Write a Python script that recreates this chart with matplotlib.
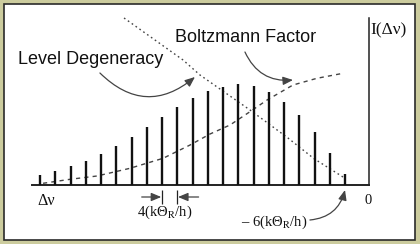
import numpy as np
import matplotlib
matplotlib.use("Agg")
import matplotlib.pyplot as plt
from matplotlib.patches import Rectangle, FancyArrowPatch

plt.rcParams['mathtext.fontset'] = 'stix'

# rotational lines, counted from the band origin
line_index = list(range(21))
intensity = [10, 14, 19, 24, 31, 39, 48.6, 58, 68, 78, 87.6, 94,
             98.6, 101.3, 99.3, 93, 83.6, 70, 53.3, 32.6, 11]

# level degeneracy curve (dotted, falling)
degen_x = [5.51, 9.38, 10.49, 13.77, 16.26, 17.97, 19.87]
degen_y = [167.3, 125.3, 110.3, 75.3, 47.3, 26.6, 8.3]

# boltzmann factor curve (dashed, rising)
boltz_x = [0.20, 1.97, 3.74, 5.90, 8.07, 9.84, 11.15, 12.46, 13.77,
           14.89, 16.59, 18.16, 19.87]
boltz_y = [2.0, 6.0, 9.3, 17.0, 27.0, 40.3, 51.3, 60.3, 73.6,
           85.3, 100.3, 107.0, 112.0]

fig = plt.figure(figsize=(4.2, 2.44), dpi=100, facecolor='#cccc9e')
ax = fig.add_axes([0, 0, 1, 1])
ax.set_xlim(-40 / 15.25, 380 / 15.25)
ax.set_ylim(-58.7, 185.3)
ax.axis('off')

# white panel with dark border
ax.add_patch(Rectangle((3.5 / 420, 4 / 244), 411 / 420, 236 / 244,
                       transform=ax.transAxes, facecolor='white',
                       edgecolor='#2a2a2a', lw=1.2, zorder=0))

ax.vlines(line_index, 0, intensity, color='#111111', lw=1.7, zorder=3)
ax.plot([-0.52, 21.55], [0, 0], color='#222222', lw=1.4)
ax.plot([21.55, 21.55], [0, 167.3], color='#222222', lw=1.1)

ax.plot(degen_x, degen_y, color='#444444', lw=1.0, ls=(0, (1.2, 2.2)))
ax.plot(boltz_x, boltz_y, color='#444444', lw=1.0, ls=(0, (3, 3)))

sans = dict(family='Liberation Sans', fontsize=13, color='#111111')
serif = dict(family='Liberation Serif', color='#111111')
ax.text(-1.44, 125.3, 'Level Degeneracy', va='center', ha='left', **sans)
ax.text(8.85, 147.3, 'Boltzmann Factor', va='center', ha='left', **sans)
ax.text(21.64, 155.3, 'I(Δν)', va='center', ha='left', fontsize=12.5, **serif)
ax.text(0.39, -15.7, 'Δν', va='center', ha='center', fontsize=11.5, **serif)
ax.text(21.5, -14.7, '0', va='center', ha='center', fontsize=10.5, **serif)
ax.text(8.2, -26.7, r'4(kΘ$_\mathrm{R}$/h)', va='center', ha='center',
        fontsize=10.5, **serif)
ax.text(15.34, -36.7, r'– 6(kΘ$_\mathrm{R}$/h)', va='center', ha='center',
        fontsize=10.5, **serif)

arrow = dict(arrowstyle='-|>,head_length=0.6,head_width=0.25',
             mutation_scale=10, color='#444444', lw=0.9,
             shrinkA=0, shrinkB=0)
ax.add_patch(FancyArrowPatch((3.93, 112.3), (10.16, 108.3),
                             connectionstyle='arc3,rad=0.45', **arrow))
ax.add_patch(FancyArrowPatch((13.44, 133.3), (16.59, 105.3),
                             connectionstyle='arc3,rad=0.35', **arrow))
ax.add_patch(FancyArrowPatch((17.7, -34.7), (20.0, -4.7),
                             connectionstyle='arc3,rad=0.35', **arrow))

# line spacing marker
ax.vlines([8, 9], -18.7, -4.7, color='#222222', lw=0.9)
ax.add_patch(FancyArrowPatch((6.67, -11.7), (7.95, -11.7), **arrow))
ax.add_patch(FancyArrowPatch((10.4, -11.7), (9.05, -11.7), **arrow))

fig.savefig('out.png', dpi=100, facecolor=fig.get_facecolor())
